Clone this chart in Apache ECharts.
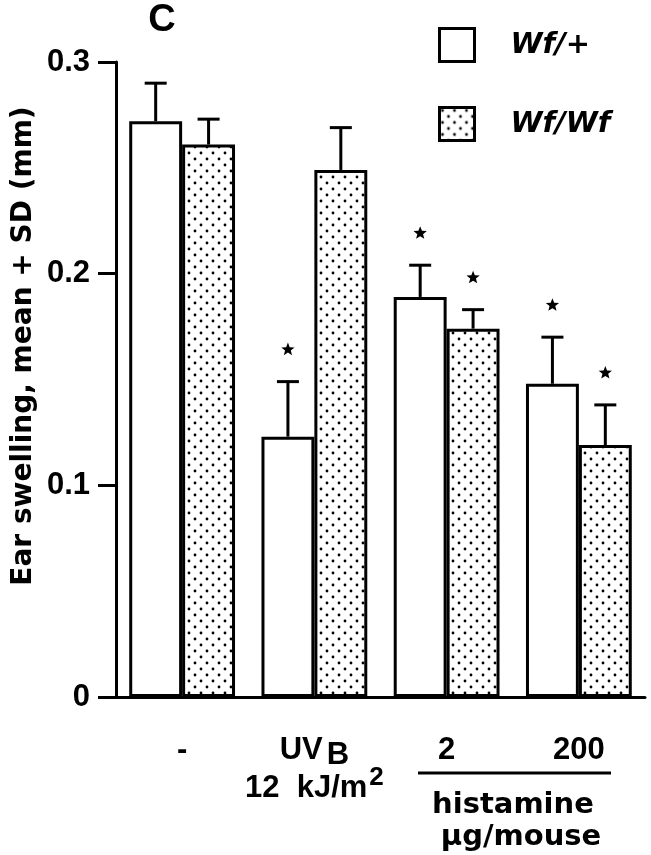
<!DOCTYPE html>
<html>
<head>
<meta charset="utf-8">
<script src="https://cdn.jsdelivr.net/npm/echarts@6/dist/echarts.min.js"></script>
<style>
  html, body { margin: 0; padding: 0; background: #fff; }
  #chart { width: 651px; height: 855px; }
</style>
</head>
<body>
<div id="chart"></div>
<script>
  // values (mm)
  var categories = ['-', 'UVB', '2', '200'];
  var wfPlusMean = [0.272, 0.123, 0.189, 0.148];
  var wfPlusSD = [0.018, 0.026, 0.015, 0.022];
  var wfWfMean = [0.261, 0.249, 0.174, 0.119];
  var wfWfSD = [0.012, 0.020, 0.009, 0.019];
  var wfPlusSig = [0, 1, 1, 1];
  var wfWfSig = [0, 0, 1, 1];
  var yTicks = [0, 0.1, 0.2, 0.3];

  var numFont = '"Liberation Sans", Arial, sans-serif';
  var wordFont = '"DejaVu Sans", sans-serif';

  // dotted fill for Wf/Wf
  function dotPattern() {
    var c = document.createElement('canvas');
    c.width = 12; c.height = 12;
    var ctx = c.getContext('2d');
    ctx.fillStyle = '#fff';
    ctx.fillRect(0, 0, 12, 12);
    ctx.fillStyle = '#000';
    [[3, 3], [9, 9]].forEach(function (p) {
      ctx.beginPath();
      ctx.arc(p[0], p[1], 1.4, 0, Math.PI * 2);
      ctx.fill();
    });
    return c;
  }

  function starPoints(cx, cy, r1, r2) {
    var pts = [];
    for (var i = 0; i < 10; i++) {
      var r = i % 2 ? r2 : r1;
      var a = -Math.PI / 2 + i * Math.PI / 5;
      pts.push([cx + r * Math.cos(a), cy + r * Math.sin(a)]);
    }
    return pts;
  }

  // upper SD whisker + significance star
  function errorRenderer(side) {
    return function (params, api) {
      var idx = api.value(0);
      var base = api.coord([idx, api.value(1)]);
      var tip = api.coord([idx, api.value(1) + api.value(2)]);
      var band = api.size([1, 0])[0];
      var x = base[0] + side * band * 0.2;
      var kids = [
        {type: 'line', shape: {x1: x, y1: base[1], x2: x, y2: tip[1]}, style: {stroke: '#000', lineWidth: 3}},
        {type: 'line', shape: {x1: x - 11, y1: tip[1], x2: x + 11, y2: tip[1]}, style: {stroke: '#000', lineWidth: 3}}
      ];
      if (api.value(3)) {
        kids.push({type: 'polygon', shape: {points: starPoints(x, tip[1] - 32, 7, 3)}, style: {fill: '#000'}});
      }
      return {type: 'group', children: kids};
    };
  }

  function errData(mean, sd, sig) {
    return mean.map(function (m, i) { return [i, m, sd[i], sig[i]]; });
  }

  var chart = echarts.init(document.getElementById('chart'));
  chart.setOption({
    animation: false,
    backgroundColor: '#fff',
    grid: {left: 116, right: 6, top: 62, bottom: 158},
    legend: {
      data: ['Wf/+', 'Wf/Wf'],
      orient: 'vertical',
      left: 433,
      top: 22,
      icon: 'rect',
      itemWidth: 35,
      itemHeight: 33,
      itemGap: 43,
      itemStyle: {borderColor: '#000', borderWidth: 3},
      textStyle: {
        color: '#000', fontFamily: wordFont, fontStyle: 'italic', fontWeight: 'bold',
        fontSize: 29, padding: [0, 0, 0, 31]
      }
    },
    xAxis: {
      type: 'category',
      data: categories,
      axisLine: {lineStyle: {color: '#000', width: 3}},
      axisTick: {alignWithLabel: true, length: 18, lineStyle: {color: '#000', width: 3}},
      axisLabel: {
        interval: 0,
        margin: 34,
        color: '#000',
        fontFamily: numFont,
        fontWeight: 'bold',
        fontSize: 31,
        lineHeight: 38,
        formatter: function (v) {
          return v === 'UVB' ? 'UV{b|B}\n12  kJ/m{sup|2}' : v;
        },
        rich: {
          b: {fontFamily: numFont, fontWeight: 'bold', fontSize: 31, color: '#000', padding: [10, 0, 0, 4]},
          sup: {fontFamily: numFont, fontWeight: 'bold', fontSize: 26, color: '#000', padding: [0, 0, 20, 2]}
        }
      }
    },
    yAxis: {
      type: 'value',
      min: yTicks[0],
      max: yTicks[yTicks.length - 1],
      interval: 0.1,
      splitLine: {show: false},
      axisLine: {show: true, lineStyle: {color: '#000', width: 3}},
      axisTick: {show: true, length: 18, lineStyle: {color: '#000', width: 3}},
      axisLabel: {
        margin: 26,
        color: '#000',
        fontFamily: numFont,
        fontWeight: 'bold',
        fontSize: 31,
        formatter: function (v) { return v === 0 ? '0' : v.toFixed(1); }
      }
    },
    series: [
      {
        name: 'Wf/+',
        type: 'bar',
        data: wfPlusMean,
        barGap: '0%',
        barCategoryGap: '20%',
        itemStyle: {color: '#fff', borderColor: '#000', borderWidth: 3}
      },
      {
        name: 'Wf/Wf',
        type: 'bar',
        data: wfWfMean,
        itemStyle: {color: {image: dotPattern(), repeat: 'repeat'}, borderColor: '#000', borderWidth: 3}
      },
      {
        name: 'sdPlus',
        type: 'custom',
        renderItem: errorRenderer(-1),
        data: errData(wfPlusMean, wfPlusSD, wfPlusSig),
        z: 5
      },
      {
        name: 'sdWf',
        type: 'custom',
        renderItem: errorRenderer(1),
        data: errData(wfWfMean, wfWfSD, wfWfSig),
        z: 5
      }
    ],
    graphic: [
      {type: 'text', x: 162, y: 21, style: {text: 'C', fontFamily: numFont, fontWeight: 'bold', fontSize: 38, fill: '#000', align: 'center', verticalAlign: 'middle'}},
      {type: 'text', x: 24, y: 346, rotation: Math.PI / 2, style: {text: 'Ear swelling, mean + SD (mm)', fontFamily: wordFont, fontWeight: 'bold', fontSize: 28, fill: '#000', align: 'center', verticalAlign: 'middle'}},
      {type: 'line', shape: {x1: 418, y1: 773, x2: 611, y2: 773}, style: {stroke: '#000', lineWidth: 3}},
      {type: 'text', x: 513, y: 805, style: {text: 'histamine', fontFamily: wordFont, fontWeight: 'bold', fontSize: 29, fill: '#000', align: 'center', verticalAlign: 'middle'}},
      {type: 'text', x: 521, y: 837, style: {text: 'μg/mouse', fontFamily: wordFont, fontWeight: 'bold', fontSize: 29, fill: '#000', align: 'center', verticalAlign: 'middle'}}
    ]
  });
</script>
</body>
</html>
